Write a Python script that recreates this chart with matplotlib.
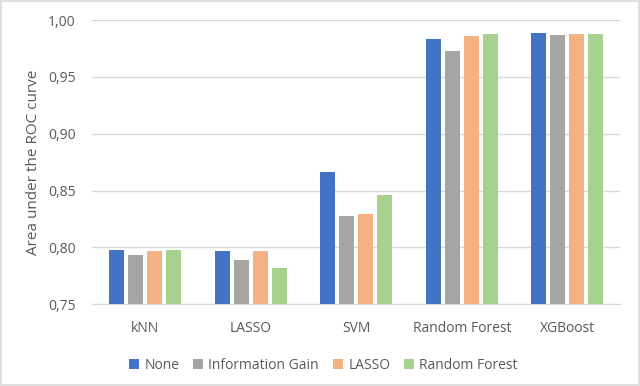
import matplotlib.pyplot as plt
import numpy as np
from matplotlib.ticker import FuncFormatter

plt.rcParams['font.family'] = ['Open Sans', 'DejaVu Sans']

# Data
modelos = ["kNN", "LASSO", "SVM", "Random Forest", "XGBoost"]
series = ["None", "Information Gain", "LASSO", "Random Forest"]
auc_none = [0.798, 0.797, 0.866, 0.983, 0.989]
auc_infogain = [0.793, 0.789, 0.828, 0.973, 0.987]
auc_lasso = [0.797, 0.797, 0.829, 0.986, 0.988]
auc_rf = [0.798, 0.782, 0.846, 0.988, 0.988]

cores = ["#4472C4", "#A5A5A5", "#F4B183", "#A9D18E"]
texto = "#595959"

fig = plt.figure(figsize=(6.4, 3.86), dpi=100)
ax = fig.add_axes([0.144, 0.212, 0.825, 0.736])

x = np.arange(len(modelos))
largura = 0.142
passo = 0.18
valores = [auc_none, auc_infogain, auc_lasso, auc_rf]
for i, (vals, cor, nome) in enumerate(zip(valores, cores, series)):
    ax.bar(x + (i - 1.5) * passo, vals, width=largura, color=cor, label=nome, zorder=3)

ax.set_ylim(0.75, 1.0)
ax.set_xlim(-0.5, len(modelos) - 0.5)
ax.set_yticks(np.arange(0.75, 1.001, 0.05))
ax.yaxis.set_major_formatter(FuncFormatter(lambda v, p: f"{v:.2f}".replace(".", ",")))
ax.set_xticks(x)
ax.set_xticklabels(modelos)
ax.grid(axis='y', color="#D9D9D9", linewidth=1, zorder=0)
for s in ["top", "right", "left"]:
    ax.spines[s].set_visible(False)
ax.spines["bottom"].set_color("#D9D9D9")
ax.tick_params(length=0, colors=texto, labelsize=10)
ax.tick_params(axis='x', pad=12)
ax.tick_params(axis='y', pad=12)
ax.set_ylabel("Area under the ROC curve", color=texto, fontsize=11, labelpad=5)

ax.legend(loc="upper center", bbox_to_anchor=(0.438, -0.145), ncol=4, frameon=False,
          fontsize=10, labelcolor=texto, handlelength=0.7, handleheight=0.7,
          handletextpad=0.4, columnspacing=1.0)

fig.patches.append(plt.Rectangle((0.002, 0.003), 0.996, 0.994, transform=fig.transFigure,
                                 fill=False, edgecolor="#D9D9D9", linewidth=1.2))

fig.savefig("out.png", dpi=100)
